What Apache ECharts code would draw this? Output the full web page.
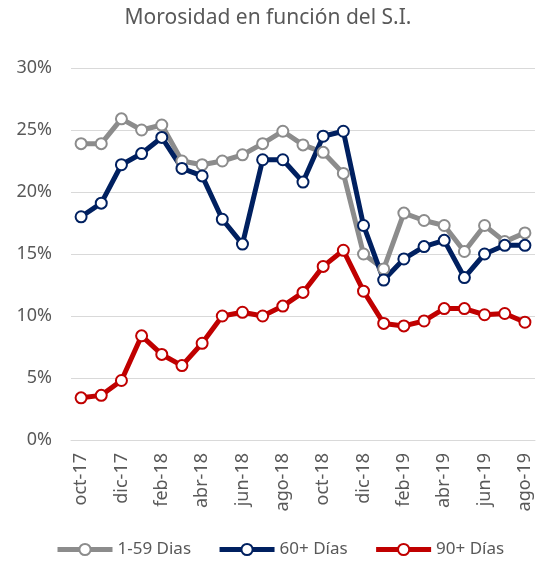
<!DOCTYPE html>
<html>
<head>
<meta charset="utf-8">
<script src="https://cdn.jsdelivr.net/npm/echarts@6/dist/echarts.min.js"></script>
<style>
  html, body { margin: 0; padding: 0; background: #fff; }
  #chart { width: 536px; height: 561px; }
</style>
</head>
<body>
<div id="chart"></div>
<script>
// meses oct-17 .. ago-19
var meses = ['oct-17','nov-17','dic-17','ene-18','feb-18','mar-18','abr-18','may-18','jun-18','jul-18','ago-18','sep-18',
             'oct-18','nov-18','dic-18','ene-19','feb-19','mar-19','abr-19','may-19','jun-19','jul-19','ago-19'];

var dias1_59 = [23.9, 23.9, 25.9, 25.0, 25.4, 22.5, 22.2, 22.5, 23.0, 23.9, 24.9, 23.8,
                23.2, 21.5, 15.0, 13.8, 18.3, 17.7, 17.3, 15.2, 17.3, 16.0, 16.7];
var dias60 = [18.0, 19.1, 22.2, 23.1, 24.4, 21.9, 21.3, 17.8, 15.8, 22.6, 22.6, 20.8,
              24.5, 24.9, 17.3, 12.9, 14.6, 15.6, 16.1, 13.1, 15.0, 15.7, 15.7];
var dias90 = [3.4, 3.6, 4.8, 8.4, 6.9, 6.0, 7.8, 10.0, 10.3, 10.0, 10.8, 11.9,
              14.0, 15.3, 12.0, 9.4, 9.2, 9.6, 10.6, 10.6, 10.1, 10.2, 9.5];

var fuente = 'Noto Sans';
var gris = '#595959';

function serie(nombre, datos, color) {
    return {
        name: nombre,
        type: 'line',
        data: datos,
        symbol: 'circle',
        symbolSize: 11,
        showAllSymbol: true,
        lineStyle: { width: 5, color: color },
        itemStyle: { color: '#fff', borderColor: color, borderWidth: 2 },
        emphasis: { disabled: true },
        z: 2
    };
}

var chart = echarts.init(document.getElementById('chart'));
chart.setOption({
    animation: false,
    textStyle: { fontFamily: fuente },
    title: {
        text: 'Morosidad en función del S.I.',
        left: 'center',
        top: 3,
        textStyle: { fontFamily: fuente, fontSize: 21, fontWeight: 'normal', color: gris }
    },
    legend: {
        bottom: 3,
        left: 55,
        padding: 0,
        itemWidth: 55,
        itemHeight: 14,
        itemGap: 26,
        lineStyle: { width: 5 },
        textStyle: { fontFamily: fuente, fontSize: 17, color: gris },
        data: ['1-59 Dias', '60+ Días', '90+ Días']
    },
    grid: { left: 71, right: 1, top: 68, bottom: 121 },
    xAxis: {
        type: 'category',
        data: meses,
        boundaryGap: true,
        axisLine: { show: true, lineStyle: { color: '#d9d9d9', width: 1 } },
        axisTick: { show: false },
        axisLabel: { interval: 1, rotate: 90, fontSize: 18, color: gris, margin: 13, fontFamily: fuente }
    },
    yAxis: {
        type: 'value',
        min: 0,
        max: 30,
        interval: 5,
        axisLine: { show: false },
        axisTick: { show: false },
        axisLabel: { formatter: '{value}%', fontSize: 18, color: gris, margin: 19, fontFamily: fuente },
        splitLine: { lineStyle: { color: '#d9d9d9', width: 1 } }
    },
    series: [
        serie('1-59 Dias', dias1_59, '#8c8c8c'),
        serie('60+ Días', dias60, '#002060'),
        serie('90+ Días', dias90, '#c00000')
    ]
});
</script>
</body>
</html>
